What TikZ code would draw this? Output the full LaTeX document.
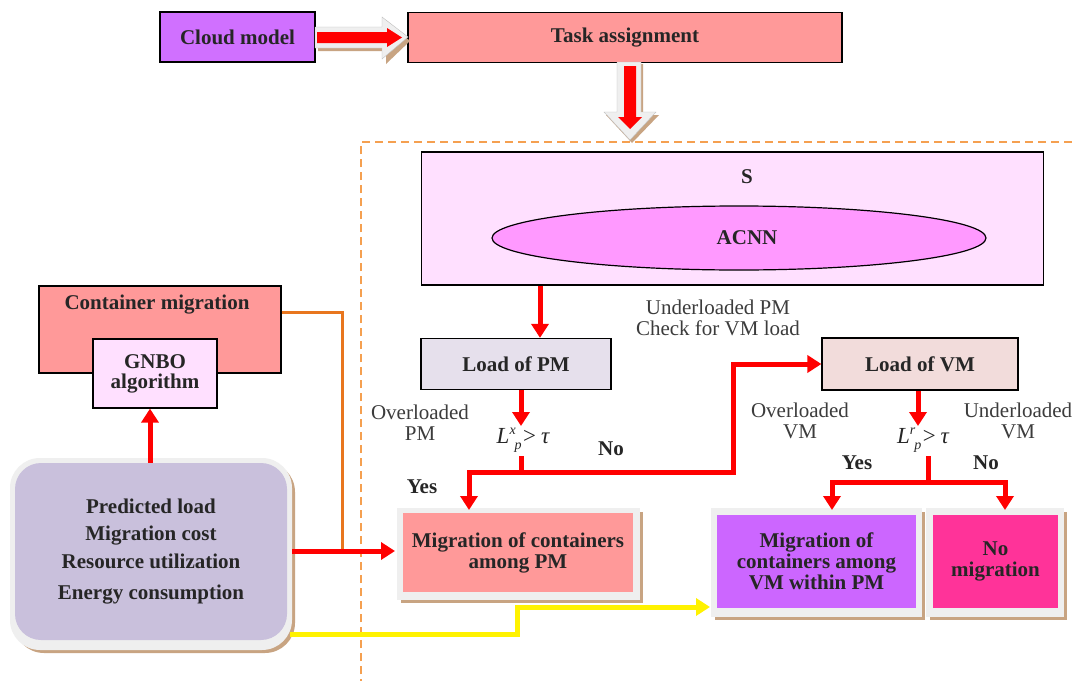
\documentclass[tikz,border=0pt]{standalone}
\usepackage{fontspec}
\setmainfont{Liberation Serif}
\usetikzlibrary{arrows.meta,shapes.geometric}
\definecolor{cloudc}{HTML}{D070FF}
\definecolor{taskc}{HTML}{FF9999}
\definecolor{sboxc}{HTML}{FFE0FF}
\definecolor{ellc}{HTML}{FF99FF}
\definecolor{lpmc}{HTML}{E6E0EC}
\definecolor{lvmc}{HTML}{F2DCDB}
\definecolor{vmmigc}{HTML}{CC66FF}
\definecolor{nomigc}{HTML}{FF3399}
\definecolor{predc}{HTML}{C9C0DC}
\definecolor{orangec}{HTML}{E8761E}
\definecolor{dashc}{HTML}{F5A050}
\definecolor{tanc}{HTML}{C8A482}
\definecolor{framec}{HTML}{EFEFEF}
\definecolor{txtc}{HTML}{262626}
\newcommand{\sbig}{\fontsize{21}{23}\selectfont}
\newcommand{\sform}{\fontsize{23}{25}\selectfont}
\newcommand{\ssmall}{\fontsize{14}{14}\selectfont}
\begin{document}
\begin{tikzpicture}[x=1pt,y=-1pt,
  box/.style={draw=black, line width=1.2pt, inner sep=0pt, font=\bfseries\sbig, align=center, text=txtc},
  plainbox/.style={draw=none, inner sep=0pt, font=\bfseries\sbig, align=center, text=txtc},
  lbl/.style={font=\sbig, align=center, text=txtc!90, inner sep=0pt},
  blbl/.style={font=\bfseries\sbig, text=txtc, inner sep=0pt},
  form/.style={inner sep=0pt, font=\sform, text=txtc},
  redc/.style={draw=red, line width=5pt},
  redarr/.style={redc, -{Triangle[width=17pt,length=14pt]}},
  yelarr/.style={draw=yellow, line width=5pt, -{Triangle[width=17pt,length=14pt]}},
]
\useasboundingbox (0,0) rectangle (1076,680);
\fill[white] (0,0) rectangle (1076,680);

% dashed region
\draw[dashc, line width=1.5pt, dash pattern=on 8pt off 5pt] (361,700) -- (361,142) -- (1090,142);

% top boxes
\node[box, fill=cloudc, minimum width=155pt, minimum height=50pt] (cloud) at (237.5,37) {Cloud model};
\node[box, fill=taskc, minimum width=434pt, minimum height=50pt] (task) at (625,37.5) {Task assignment};

% horizontal block arrow
\fill[tanc] (318,51) -- (386,51) -- (386,64) -- (410,41) -- (386,20) -- (386,30) -- (318,30) -- cycle;
\filldraw[fill=framec, draw=framec!80!black, line width=0.4pt] (315,27) -- (382,27) -- (382,17) -- (408,37) -- (382,59) -- (382,48) -- (315,48) -- cycle;
\fill[red] (317,32) -- (387,32) -- (387,28) -- (402,37.5) -- (387,47) -- (387,43) -- (317,43) -- cycle;

% vertical block arrow
\fill[tanc] (620,64) -- (643,64) -- (643,115) -- (659,115) -- (632,143) -- (606,115) -- (620,115) -- cycle;
\filldraw[fill=framec, draw=framec!80!black, line width=0.4pt] (617,62) -- (641,62) -- (641,112) -- (656,112) -- (630,140) -- (604,112) -- (617,112) -- cycle;
\fill[red] (624,66) -- (636,66) -- (636,117) -- (642,117) -- (630,129) -- (618,117) -- (624,117) -- cycle;

% S box and ellipse
\node[box, fill=sboxc, minimum width=622pt, minimum height=133pt] (sbox) at (732.5,218.5) {};
\node[blbl] (slabel) at (747,177) {S};
\node[draw=black, line width=1.2pt, ellipse, fill=ellc, minimum width=494pt, minimum height=64pt, inner sep=0pt, font=\bfseries\sbig, text=txtc] (acnn) at (739,238) {\hspace*{16pt}ACNN};

% Load of PM
\node[box, fill=lpmc, minimum width=190pt, minimum height=51pt] (lpm) at (516,364) {Load of PM};
\node[lbl] (underpm) at (718,318) {Underloaded PM\\[-2pt]Check for VM load};
\node[lbl] (overpm) at (420,423) {Overloaded\\[-2pt]PM};
\node[form] (fpm) at (523,440) {\itshape L\raisebox{9pt}{\ssmall\itshape x}\kern-1pt\raisebox{-6pt}{\ssmall\itshape p}>\,\itshape τ};
\coordinate (fpmb) at (521,456);
\coordinate (jpm) at (521,472);
\node[blbl] (nopm) at (611,449) {No};
\node[blbl] (yespm) at (422,487) {Yes};

% Migration among PM
\fill[tanc] (401,512) rectangle (643,603);
\fill[framec] (397,508) rectangle (640,600);
\node[plainbox, fill=taskc, minimum width=230pt, minimum height=79pt] (migpm) at (518,552.5) {Migration of containers\\[-2pt]among PM};

% Load of VM
\node[box, fill=lvmc, minimum width=196pt, minimum height=52pt] (lvm) at (920,364) {Load of VM};
\node[lbl] (overvm) at (800,421) {Overloaded\\[-2pt]VM};
\node[lbl] (undervm) at (1018,421) {Underloaded\\[-2pt]VM};
\node[form] (fvm) at (923,440) {\itshape L\raisebox{9pt}{\ssmall\itshape r}\kern-1pt\raisebox{-6pt}{\ssmall\itshape p}>\,\itshape τ};
\coordinate (fvmb) at (928,456);
\coordinate (jvm) at (928,482);
\node[blbl] (yesvm) at (857,463) {Yes};
\node[blbl] (novm) at (986,463) {No};

% VM migration boxes
\fill[tanc] (715,512) rectangle (925,620);
\fill[framec] (711,508) rectangle (922,617);
\node[plainbox, fill=vmmigc, minimum width=199pt, minimum height=93pt] (migvm) at (816.5,561.5) {Migration of\\[-2pt]containers among\\[-2pt]VM within PM};
\fill[tanc] (930,512) rectangle (1067,620);
\fill[framec] (926,508) rectangle (1064,617);
\node[plainbox, fill=nomigc, minimum width=125pt, minimum height=93pt] (nomig) at (995.5,561.5) {No\\[-2pt]migration};

% left side
\node[box, fill=taskc, minimum width=242pt, minimum height=87pt] (cont) at (160,329.5) {};
\node[blbl] (contlbl) at (157,305) {Container migration};
\node[box, fill=sboxc, minimum width=124pt, minimum height=69pt] (gnbo) at (155,373.5) {GNBO\\[-3pt]algorithm};

\fill[tanc, rounded corners=30pt] (14,462) rectangle (295,653);
\fill[framec, rounded corners=30pt] (10,458) rectangle (292,650);
\node[plainbox, fill=predc, rounded corners=26pt, minimum width=272pt, minimum height=177pt] (pred) at (151,551.5) {Predicted load\\[4pt]Migration cost\\[5pt]Resource utilization\\[8pt]Energy consumption};

% connectors
\draw[redarr] (sbox.south -| 540,0) -- (lpm.north -| 540,0);
\draw[redarr] (lpm.south -| 521,0) -- (521,426);
\draw[redc] (fpmb) -- (jpm);
\draw[redarr] (jpm) -| (469,510);
\draw[redarr] (jpm) -- (733,472) |- (lvm.west);
\draw[redarr] (lvm.south -| 918,0) -- (918,426);
\draw[redc] (fvmb) -- (jvm);
\draw[redarr] (jvm) -| (832,510);
\draw[redarr] (jvm) -| (1005,510);
\draw[redarr] (pred.north -| 150,0) -- (gnbo.south -| 150,0);
\draw[orangec, line width=3pt] (cont.east |- 0,312) -- (342,312) -- (342,551);
\draw[redarr] (292,551) -- (395,551);
\draw[yelarr] (290,634) -- (517,634) -- (517,607) -- (710,607);
\end{tikzpicture}
\end{document}
